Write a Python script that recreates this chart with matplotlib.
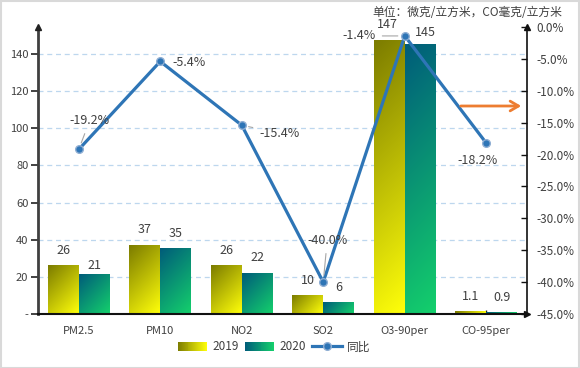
import numpy as np
import matplotlib
matplotlib.use('Agg')
import matplotlib.pyplot as plt
from matplotlib.colors import to_rgb
from matplotlib.patches import Rectangle, Patch, FancyArrowPatch
from matplotlib.lines import Line2D
from matplotlib.legend_handler import HandlerBase
from matplotlib.ticker import FuncFormatter

plt.rcParams['font.family'] = ['Noto Sans CJK SC', 'DejaVu Sans']

# ---- data ----
categories = ['PM2.5', 'PM10', 'NO2', 'SO2', 'O3-90per', 'CO-95per']
v2019 = [26, 37, 26, 10, 147, 1.1]
v2020 = [21, 35, 22, 6, 145, 0.9]
yoy = [-19.2, -5.4, -15.4, -40.0, -1.4, -18.2]
labels2019 = ['26', '37', '26', '10', '147', '1.1']
labels2020 = ['21', '35', '22', '6', '145', '0.9']
yoy_labels = ['-19.2%', '-5.4%', '-15.4%', '-40.0%', '-1.4%', '-18.2%']
series_names = ['2019', '2020', '同比']
unit_text = '单位：微克/立方米，CO毫克/立方米'

# ---- style ----
C19 = ('#7c7c00', '#ffff0a')
C20 = ('#005c7a', '#14d06c')
LINE = '#2e75b6'
TXT = '#404040'
GRID = '#bdd7ee'

W, H = 580, 368
fig = plt.figure(figsize=(W / 100, H / 100), dpi=100)
ax = fig.add_axes([38 / W, 1 - 314 / H, (527 - 38) / W, (314 - 27) / H])
x = np.arange(len(categories))
bw = 0.38
XLIM = (-0.5, len(categories) - 0.5)
YLIM = (0, 154.5)
ax.set_xlim(*XLIM)
ax.set_ylim(*YLIM)

bars19 = ax.bar(x - bw / 2, v2019, bw, color='none', edgecolor='none', zorder=2)
bars20 = ax.bar(x + bw / 2, v2020, bw, color='none', edgecolor='none', zorder=2)


def grad_fill(bar, cols):
    x0, y0 = bar.get_x(), bar.get_y()
    w, h = bar.get_width(), bar.get_height()
    p0 = ax.transData.transform((x0, y0))
    p1 = ax.transData.transform((x0 + w, y0 + h))
    wpx, hpx = abs(p1[0] - p0[0]), abs(p1[1] - p0[1])
    nx, ny = 24, 96
    X, Y = np.meshgrid(np.linspace(0, 1, nx), np.linspace(0, 1, ny))
    t = (X * wpx + Y * hpx) / (wpx + hpx)
    c0, c1 = np.array(to_rgb(cols[0])), np.array(to_rgb(cols[1]))
    img = c0[None, None, :] * (1 - t[..., None]) + c1[None, None, :] * t[..., None]
    ax.imshow(img, extent=(x0, x0 + w, y0, y0 + h), origin='upper',
              aspect='auto', interpolation='bilinear', zorder=2)


for b in bars19:
    grad_fill(b, C19)
for b in bars20:
    grad_fill(b, C20)
ax.set_xlim(*XLIM)
ax.set_ylim(*YLIM)

# grid
ax.set_axisbelow(True)
for yv in range(20, 141, 20):
    ax.axhline(yv, color=GRID, lw=0.9, ls=(0, (4, 3)), zorder=0)

ax.set_yticks(range(0, 141, 20))
ax.yaxis.set_major_formatter(FuncFormatter(lambda v, p: '-' if v == 0 else f'{int(v)}'))
ax.tick_params(axis='y', direction='out', length=5, width=1.2, colors='#222222',
               labelcolor=TXT, labelsize=8, pad=2)
ax.set_xticks(x)
ax.set_xticklabels(categories)
ax.tick_params(axis='x', direction='in', length=3, width=1, colors='#222222',
               labelcolor=TXT, labelsize=8, pad=9)
for s in ['top', 'right']:
    ax.spines[s].set_visible(False)
ax.spines['left'].set_color('#404040')
ax.spines['left'].set_linewidth(2)
ax.spines['bottom'].set_color('#111111')
ax.spines['bottom'].set_linewidth(1.5)

# bar labels
off19 = [(0, 15), (0, 16), (0, 15), (0, 15), (-2, 16), (0, 15)]
off20 = [(0, 9), (0, 15), (0, 16), (0, 15), (5, 12), (0, 15)]
for bars, labs, offs in ((bars19, labels2019, off19), (bars20, labels2020, off20)):
    for b, lab, o in zip(bars, labs, offs):
        ax.annotate(lab, (b.get_x() + b.get_width() / 2, b.get_height()), xytext=o,
                    textcoords='offset pixels', ha='center', va='center',
                    fontsize=9, color=TXT, zorder=5)

# ---- secondary axis ----
ax2 = ax.twinx()
ax2.set_ylim(-45, 0)
ax2.set_yticks(np.arange(-45, 0.1, 5))
ax2.yaxis.set_major_formatter(FuncFormatter(lambda v, p: f'{v:.1f}%'))
ax2.tick_params(axis='y', direction='in', length=4, width=1, colors='#111111',
                labelcolor=TXT, labelsize=8.5, pad=7)
for s in ['top', 'left', 'bottom']:
    ax2.spines[s].set_visible(False)
ax2.spines['right'].set_color('#111111')
ax2.spines['right'].set_linewidth(1.2)

ax2.plot(x, yoy, color=LINE, lw=2.3, marker='o', ms=5.5, mfc=LINE,
         mec='#8faed3', mew=1, zorder=4, solid_capstyle='round')

yoy_off = [(11, 29), (29, -1), (38, -8), (4, 42), (-46, 0), (-9, -17)]
leader = [True, False, True, True, True, False]
for xi, yv, lab, o, ld in zip(x, yoy, yoy_labels, yoy_off, leader):
    kw = {}
    if ld:
        kw['arrowprops'] = dict(arrowstyle='-', color='#a6a6a6', lw=0.8,
                                shrinkA=3, shrinkB=5)
    ax2.annotate(lab, (xi, yv), xytext=o, textcoords='offset pixels',
                 ha='center', va='center', fontsize=9, color=TXT, zorder=6, **kw)

# axis arrows
ax.plot([0], [1], marker='^', ms=5, color='#222222', transform=ax.transAxes,
        clip_on=False, zorder=7)
ax2.plot([1], [1], marker='^', ms=5, color='#111111', transform=ax2.transAxes,
         clip_on=False, zorder=7)
ax2.plot([1], [0], marker='>', ms=5, color='#111111', transform=ax2.transAxes,
         clip_on=False, zorder=7)

# orange arrow pointing to right axis
fig.add_artist(FancyArrowPatch(
    (458 / W, 1 - 106 / H), (524 / W, 1 - 106 / H), transform=fig.transFigure,
    arrowstyle='->,head_length=0.6,head_width=0.35', mutation_scale=10,
    color='#ed7d31', lw=2))

# unit text
fig.text(562 / W, 1 - 12 / H, unit_text, ha='right', va='center', fontsize=8.5, color=TXT)


# legend
class GradHandler(HandlerBase):
    def __init__(self, cols, n=30):
        super().__init__()
        self.cols = cols
        self.n = n

    def create_artists(self, legend, orig_handle, xdescent, ydescent, width, height, fontsize, trans):
        c0, c1 = np.array(to_rgb(self.cols[0])), np.array(to_rgb(self.cols[1]))
        arts = []
        for k in range(self.n):
            t = (k + 0.5) / self.n
            col = c0 * (1 - t) + c1 * t
            arts.append(Rectangle((-xdescent + k * width / self.n, -ydescent),
                                  width / self.n * 1.08, height, facecolor=col,
                                  edgecolor='none', transform=trans))
        return arts


p19 = Patch(label=series_names[0])
p20 = Patch(label=series_names[1])
ln = Line2D([], [], color=LINE, lw=2.3, marker='o', ms=5.5, mfc=LINE, mec='#8faed3',
            mew=1, label=series_names[2])
leg = fig.legend(handles=[p19, p20, ln], loc='center', ncol=3,
                 bbox_to_anchor=(274 / W, 1 - 347 / H), frameon=False, fontsize=8.5,
                 handlelength=2.5, handleheight=0.7, handletextpad=0.45,
                 columnspacing=0.5, borderpad=0.2,
                 handler_map={p19: GradHandler(C19), p20: GradHandler(C20)})
for t in leg.get_texts():
    t.set_color(TXT)

# figure border
fig.add_artist(Rectangle((0.5 / W, 0.5 / H), 1 - 1.5 / W, 1 - 1.5 / H, transform=fig.transFigure,
                         fill=False, edgecolor='#d9d9d9', lw=1.5))

fig.savefig('out.png', dpi=100)
